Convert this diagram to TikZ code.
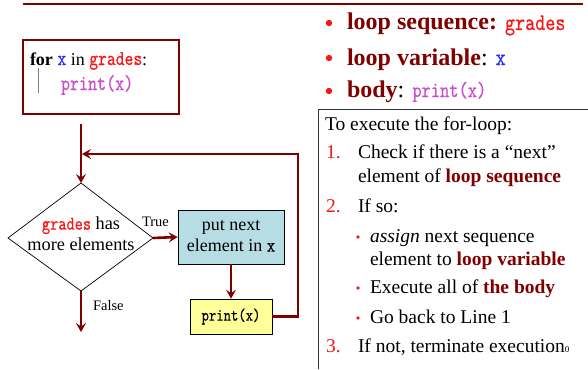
\documentclass[tikz,border=0pt]{standalone}
\usepackage{fontspec}
\setmainfont{Liberation Serif}
\newfontfamily\codefont{lmmono10-regular.otf}[FakeStretch=0.8,FakeBold=0.4]
\usetikzlibrary{arrows.meta}
\definecolor{dred}{RGB}{128,0,0}
\definecolor{cred}{RGB}{250,20,20}
\definecolor{cblue}{RGB}{40,40,250}
\definecolor{cmag}{RGB}{205,75,205}
\definecolor{boxblue}{RGB}{183,221,228}
\definecolor{boxyel}{RGB}{255,255,153}
\newcommand{\fs}[1]{\fontsize{#1}{#1}\selectfont}
\newcommand{\cod}[2]{{\codefont\fontsize{#1}{#1}\selectfont #2}}
\begin{document}
\begin{tikzpicture}[x=1pt,y=-1pt,
  txt/.style={anchor=base west,inner sep=0pt,outer sep=0pt},
  flow/.style={draw=dred,line width=2.6pt,-{Stealth[length=9pt,width=10pt,inset=3.5pt]}},
  fbox/.style={draw=black,line width=0.6pt,inner sep=0pt},
  bigdot/.style={fill=cred,draw=none},
]
\useasboundingbox (0,0) rectangle (588,369);
% top rule
\coordinate (rl) at (23,4);
\coordinate (rr) at (583,4);
\draw[dred,line width=1.3pt] (rl) -- (rr);

% code box
\node[draw=dred,line width=1.4pt,minimum width=156pt,minimum height=74pt,inner sep=0pt] (code) at (101,77) {};
\node[txt] (c1) at (30,65) {\fs{18}\textbf{for} \cod{21}{\color{cblue}x} in \cod{21}{\color{cred}grades}:};
\node[txt] (c2) at (61,90) {\cod{21.5}{\color{cmag}print(x)}};
\coordinate (gb1) at (38,68);
\coordinate (gb2) at (38,93);
\draw[gray,line width=0.6pt] (gb1) -- (gb2);

% flowchart
\coordinate (cstart) at (81,124);
\coordinate (dtop) at (81,183);
\coordinate (dleft) at (8,238);
\coordinate (dright) at (153,238);
\coordinate (dbot) at (81,291);
\draw[black,line width=0.7pt] (dtop) -- (dright) -- (dbot) -- (dleft) -- cycle;
\node[align=center,inner sep=0pt,font=\fontsize{18.3}{21}\selectfont] (dtxt) at (81,236)
  {\strut{\color{cred}\cod{19.5}{grades}} has\\more elements\strut};

\node[fbox,fill=boxblue,minimum width=106pt,minimum height=54pt,align=center,font=\fontsize{18}{21}\selectfont] (put) at (231,237)
  {\strut put next\\element in \cod{20}{x}\strut};
\node[fbox,fill=boxyel,minimum width=82pt,minimum height=35pt] (prt) at (231,316.5)
  {\cod{17.5}{print(x)}};

\coordinate (fend) at (81,332);
\coordinate (lr1) at (298,316.5);
\coordinate (lr2) at (298,154);
\coordinate (lend) at (82,154);

\draw[flow] (cstart) -- (dtop);
\draw[flow] (dright) -- (put.west);
\draw[flow] (put.south) -- (prt.north);
\draw[flow] (dbot) -- (fend);
\draw[flow] (prt.east) -- (lr1) -- (lr2) -- (lend);

\node[txt] (ltrue) at (142,226) {\fs{14.5}True};
\node[txt] (lfalse) at (93,310) {\fs{14.5}False};

% right bullets
\fill[bigdot] (329,23) circle (3.2pt);
\fill[bigdot] (329,58) circle (3.2pt);
\fill[bigdot] (329,91) circle (3.2pt);
\node[txt] (b1) at (347,30) {\fs{24}\textbf{\color{dred}loop sequence:} \cod{24}{\color{cred}grades}};
\node[txt] (b2) at (347,65) {\fs{24}\textbf{\color{dred}loop variable}: \cod{24}{\color{cblue}x}};
\node[txt] (b3) at (347,97) {\fs{24}\textbf{\color{dred}body}: \cod{22}{\color{cmag}print(x)}};

% right box
\coordinate (rb1) at (318,369);
\coordinate (rb2) at (318,109);
\coordinate (rb3) at (588,109);
\draw[black!80,line width=1pt] (rb1) -- (rb2) -- (rb3);

\node[txt] (intro) at (325,130) {\fs{19.5}To execute the for-loop:};
\node[txt] (n1) at (326,158) {\fs{19.5}\color{cred}1.};
\node[txt] (l1a) at (358,158) {\fs{19.5}Check if there is a “next”};
\node[txt] (l1b) at (358,182) {\fs{19.5}element of \textbf{\color{dred}loop sequence}};
\node[txt] (n2) at (326,212) {\fs{19.5}\color{cred}2.};
\node[txt] (l2) at (358,212) {\fs{19.5}If so:};
\fill[bigdot] (358,237) circle (1.8pt);
\fill[bigdot] (358,288) circle (1.8pt);
\fill[bigdot] (358,318) circle (1.8pt);
\node[txt] (s1a) at (370,242) {\fs{19.5}\textit{assign} next sequence};
\node[txt] (s1b) at (370,265) {\fs{19.5}element to \textbf{\color{dred}loop variable}};
\node[txt] (s2) at (370,293) {\fs{19.5}Execute all of \textbf{\color{dred}the body}};
\node[txt] (s3) at (370,323) {\fs{19.5}Go back to Line 1};
\node[txt] (n3) at (326,352) {\fs{19.5}\color{cred}3.};
\node[txt] (l3) at (358,352) {\fs{19.5}If not, terminate execution\fs{9}0};
\end{tikzpicture}
\end{document}
